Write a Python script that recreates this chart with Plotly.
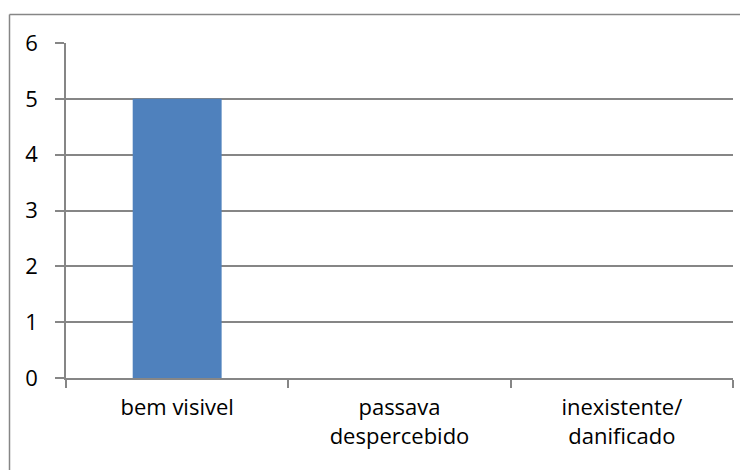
import plotly.graph_objects as go

categories = ["bem visivel", "passava<br>despercebido", "inexistente/<br>danificado"]
values = [5, 0, 0]
y_ticks = [0, 1, 2, 3, 4, 5, 6]

W, H = 748, 470
body = 8  # default page body margin offsets the figure in the window
ml, mt = 66 - body, 43 - body
mr = W - (733 - body)
mb = H - (378 - body)
pw, ph = W - ml - mr, H - mt - mb

grey = "#868686"
font = dict(family="Open Sans", size=22, color="#000000")

fig = go.Figure(go.Bar(x=categories, y=values, marker=dict(color="#4F81BD", line=dict(width=0))))

fx = -(66 - 9.5) / pw
fy = 1 + (43 - 14.5) / ph

fig.update_layout(
    width=W, height=H,
    margin=dict(l=ml, r=mr, t=mt, b=mb, pad=0, autoexpand=False),
    paper_bgcolor="white", plot_bgcolor="white",
    font=font,
    bargap=0.6,
    showlegend=False,
    shapes=[
        dict(type="line", xref="paper", yref="paper", x0=fx, x1=1.2, y0=fy, y1=fy,
             line=dict(color=grey, width=1.5)),
        dict(type="line", xref="paper", yref="paper", x0=fx, x1=fx, y0=fy, y1=-0.5,
             line=dict(color=grey, width=1.5)),
    ],
)
fig.update_yaxes(
    range=[0, 6], tickvals=y_ticks, showline=True, linecolor=grey, linewidth=1.5,
    ticks="outside", ticklen=9, tickcolor=grey, tickwidth=1.5,
    showgrid=True, gridcolor=grey, gridwidth=1.5, zeroline=False,
    ticklabelstandoff=13, tickfont=font, automargin=False,
)
fig.update_xaxes(
    showline=True, linecolor=grey, linewidth=1.5,
    ticks="outside", tickson="boundaries", ticklen=8, tickcolor=grey, tickwidth=1.5,
    showgrid=False, ticklabelstandoff=9, tickfont=font, automargin=False,
)
fig.write_html("out.html")
